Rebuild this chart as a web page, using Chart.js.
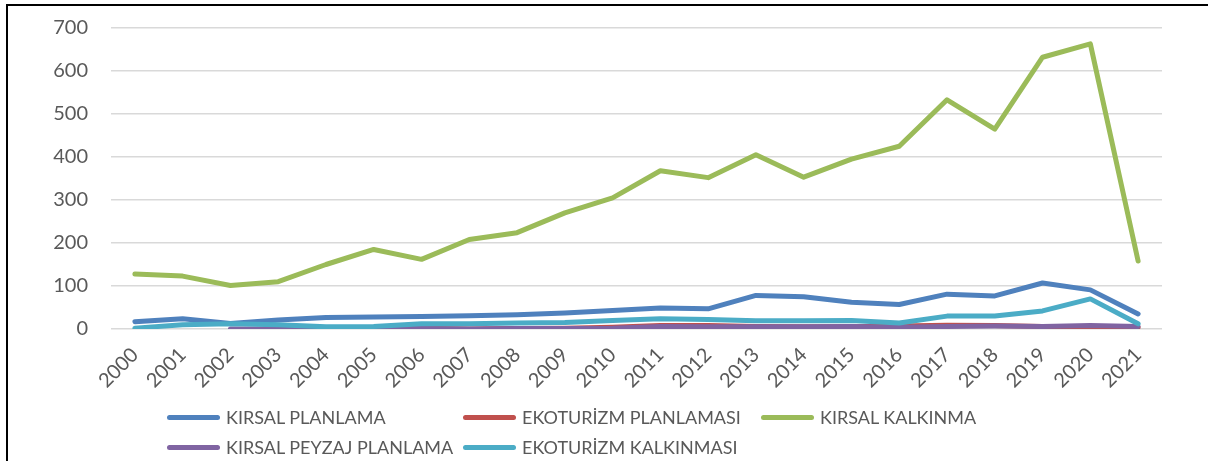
<!DOCTYPE html>
<html>
<head>
<meta charset="utf-8">
<script src="https://cdn.jsdelivr.net/npm/chart.js@4/dist/chart.umd.min.js"></script>
<style>
  html, body { margin: 0; padding: 0; background: #fff; overflow: hidden; }
  #wrap { position: relative; width: 1208px; height: 461px; }
  #frame {
    position: absolute; left: 6px; top: 4px; width: 1240px; height: 500px;
    border-left: 2px solid #000; border-top: 2px solid #000;
  }
  #chart { position: absolute; left: 0; top: 0; }
  #legend { position: absolute; left: 0; top: 0; width: 1208px; height: 461px; pointer-events: none; }
  .item { position: absolute; display: flex; align-items: center; height: 22px;
          font-family: Lato, "Open Sans", sans-serif; font-size: 18px; color: #595959; white-space: nowrap; }
  .swatch { width: 53px; height: 5px; border-radius: 3px; margin-right: 6px; }
</style>
</head>
<body>
<div id="wrap">
  <div id="frame"></div>
  <canvas id="chart" width="1208" height="461"></canvas>
  <div id="legend"></div>
</div>
<script>
// ─── DATA ────────────────────────────────────────────────────────────────
const years = ["2000", "2001", "2002", "2003", "2004", "2005", "2006", "2007", "2008", "2009", "2010",
               "2011", "2012", "2013", "2014", "2015", "2016", "2017", "2018", "2019", "2020", "2021"];

const kirsalPlanlama       = [17, 24, 13, 21, 27, 28, 29, 31, 33, 37, 43, 49, 47, 78, 75, 62, 57, 81, 77, 107, 91, 35];
const ekoturizmPlanlamasi  = [null, null, null, null, null, 0, 2, 0, 1, 2, 4, 8, 8, 6, 5, 5, 7, 9, 8, 6, 6, 4];
const kirsalKalkinma       = [128, 123, 101, 110, 150, 185, 162, 208, 224, 270, 305, 368, 352, 405, 353, 395, 425, 533, 465, 632, 663, 158];
const kirsalPeyzaj         = [null, null, 0, 0, 0, 0, 1, 0, 1, 1, 2, 6, 5, 5, 5, 6, 4, 6, 7, 6, 8, 6];
const ekoturizmKalkinmasi  = [2, 10, 12, 10, 5, 6, 12, 12, 14, 15, 20, 24, 22, 19, 19, 20, 14, 30, 30, 42, 70, 12];

const yTicks = [0, 100, 200, 300, 400, 500, 600, 700];

const seriesNames  = ["KIRSAL PLANLAMA", "EKOTURİZM PLANLAMASI", "KIRSAL KALKINMA", "KIRSAL PEYZAJ PLANLAMA", "EKOTURİZM KALKINMASI"];
const seriesColors = ["#4f81bd", "#c0504d", "#9bbb59", "#8064a2", "#4bacc6"];
const seriesData   = [kirsalPlanlama, ekoturizmPlanlamasi, kirsalKalkinma, kirsalPeyzaj, ekoturizmKalkinmasi];

// ─── CHART ───────────────────────────────────────────────────────────────
const TEXT = "#595959";
const GRID = "#d9d9d9";

const datasets = seriesNames.map((name, i) => ({
  label: name,
  data: seriesData[i],
  borderColor: seriesColors[i],
  backgroundColor: seriesColors[i],
  borderWidth: 5,
  borderCapStyle: "round",
  borderJoinStyle: "round",
  pointRadius: 0,
  tension: 0,
  fill: false,
  spanGaps: false,
  order: seriesNames.length - i   // later series on top, like Excel
}));

const chart = new Chart(document.getElementById("chart"), {
  type: "line",
  data: { labels: years, datasets },
  options: {
    responsive: false,
    animation: false,
    layout: { padding: { top: 28, right: 46, left: 0, bottom: 0 } },
    plugins: {
      legend: { display: false },
      tooltip: { enabled: false }
    },
    scales: {
      x: {
        offset: true,
        grid: { display: false },
        border: { display: false },
        ticks: {
          color: TEXT,
          font: { family: "Lato, 'Open Sans', sans-serif", size: 20 },
          minRotation: 45,
          maxRotation: 45,
          padding: 6,
          autoSkip: false
        },
        afterFit: s => { s.height = 132; }
      },
      y: {
        min: 0,
        max: 700,
        afterBuildTicks: s => { s.ticks = yTicks.map(v => ({ value: v })); },
        grid: { color: GRID, lineWidth: 1.5, drawTicks: false },
        border: { display: false },
        ticks: {
          color: TEXT,
          font: { family: "Lato, 'Open Sans', sans-serif", size: 20 },
          padding: 23
        },
        // fixed width, and keep the tick padding from pushing the plot down
        afterFit: s => { s.width = 111; s.paddingTop = 0; s.paddingBottom = 0; }
      }
    }
  }
});

// ─── LEGEND (Excel-style grid, 3 columns) ────────────────────────────────
const legendEl = document.getElementById("legend");
const colX = [167, 463, 761];
const rowY = [406, 436];
chart.data.datasets.forEach((ds, i) => {
  const item = document.createElement("div");
  item.className = "item";
  item.style.left = colX[i % 3] + "px";
  item.style.top = rowY[Math.floor(i / 3)] + "px";
  const sw = document.createElement("span");
  sw.className = "swatch";
  sw.style.background = ds.borderColor;
  const tx = document.createElement("span");
  tx.textContent = ds.label;
  item.appendChild(sw);
  item.appendChild(tx);
  legendEl.appendChild(item);
});
</script>
</body>
</html>
